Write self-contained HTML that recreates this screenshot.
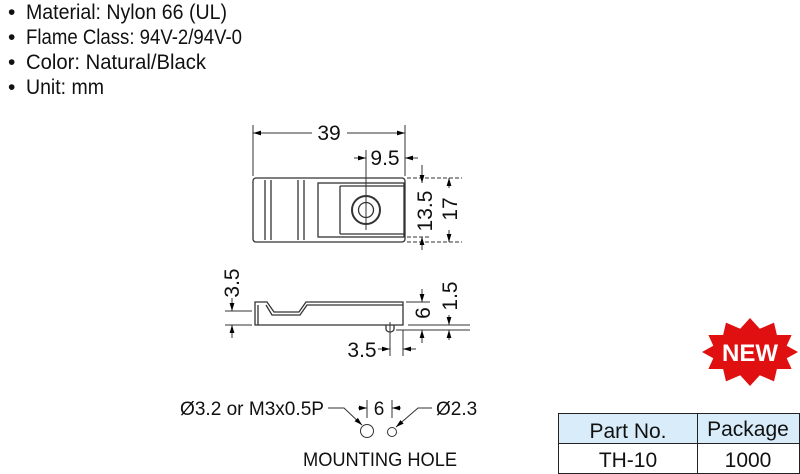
<!DOCTYPE html>
<html><head><meta charset="utf-8"><style>
html,body{margin:0;padding:0;background:#fff;}
svg{display:block;font-family:"Liberation Sans",sans-serif;}
</style></head><body>
<svg width="800" height="474" viewBox="0 0 800 474" xmlns="http://www.w3.org/2000/svg">
<defs>
<marker id="a" viewBox="0 0 10 10" refX="10" refY="5" markerWidth="8" markerHeight="8" orient="auto-start-reverse" markerUnits="userSpaceOnUse"><path d="M0,2 L10,5 L0,8 z" fill="#000"/></marker>
</defs>
<g font-size="21" fill="#111">
<text x="8" y="19">•</text><text x="26" y="19" textLength="201" lengthAdjust="spacingAndGlyphs">Material: Nylon 66 (UL)</text>
<text x="8" y="44">•</text><text x="26" y="44" textLength="216" lengthAdjust="spacingAndGlyphs">Flame Class: 94V-2/94V-0</text>
<text x="8" y="69">•</text><text x="26" y="69" textLength="180" lengthAdjust="spacingAndGlyphs">Color: Natural/Black</text>
<text x="8" y="94">•</text><text x="26" y="94" textLength="78" lengthAdjust="spacingAndGlyphs">Unit: mm</text>
</g>

<g fill="none" stroke="#333" stroke-width="1.3">
<rect x="253" y="178" width="152" height="64" rx="3"/>
<line x1="265" y1="180" x2="265" y2="240"/><line x1="271" y1="180" x2="271" y2="240"/>
<line x1="298" y1="180" x2="298" y2="240"/><line x1="304" y1="180" x2="304" y2="240"/>
<rect x="318" y="183" width="86" height="54"/>
<line x1="340" y1="186" x2="340" y2="234"/><line x1="340" y1="186" x2="404" y2="186"/><line x1="340" y1="234" x2="404" y2="234"/>
<circle cx="366" cy="210" r="14" stroke-width="2"/><circle cx="366" cy="210" r="7.5"/>
</g>
<g stroke="#333" stroke-width="1" fill="none">
<line x1="253" y1="125" x2="253" y2="176"/><line x1="405" y1="125" x2="405" y2="176"/>
<line x1="253" y1="133" x2="312" y2="133" marker-start="url(#a)"/><line x1="347" y1="133" x2="405" y2="133" marker-end="url(#a)"/>
<line x1="366" y1="150" x2="366" y2="230"/>
<line x1="354" y1="158" x2="366" y2="158" marker-end="url(#a)"/><line x1="418" y1="158" x2="405" y2="158" marker-end="url(#a)"/>
<line x1="407" y1="178" x2="462" y2="178" stroke-dasharray="4 2"/><line x1="407" y1="237" x2="430" y2="237" stroke-dasharray="4 2"/><line x1="407" y1="242" x2="462" y2="242" stroke-dasharray="4 2"/>
<line x1="422" y1="165" x2="422" y2="183" marker-end="url(#a)"/><line x1="422" y1="250" x2="422" y2="237" marker-end="url(#a)"/>
<line x1="449" y1="188" x2="449" y2="178" marker-end="url(#a)"/><line x1="449" y1="230" x2="449" y2="242" marker-end="url(#a)"/>
</g>
<g font-size="21" fill="#111">
<text x="329" y="140" text-anchor="middle">39</text>
<text x="385" y="165" text-anchor="middle">9.5</text>
<text transform="translate(432,211) rotate(-90)" text-anchor="middle">13.5</text>
<text transform="translate(457,209) rotate(-90)" text-anchor="middle">17</text>
</g>

<g fill="none" stroke="#333" stroke-width="1.3">
<path d="M255,325 L403,325 L403,302 L306,302 L299,312 L274,312 L267,302 L255,302 Z"/>
<path d="M258,305 L258,325 M266,305 L272,315 L300,315 L307,305 L403,305"/>
<path d="M386,325 L386,329 A4,3 0 0 0 394,329 L394,325"/>
</g>
<g stroke="#333" stroke-width="1" fill="none">
<line x1="225" y1="311" x2="252" y2="311"/><line x1="225" y1="325" x2="252" y2="325"/>
<line x1="232" y1="298" x2="232" y2="311" marker-end="url(#a)"/><line x1="232" y1="338" x2="232" y2="325" marker-end="url(#a)"/>
<line x1="406" y1="302" x2="430" y2="302"/><line x1="396" y1="330" x2="470" y2="330"/><line x1="408" y1="325" x2="470" y2="325"/>
<line x1="422" y1="289" x2="422" y2="302" marker-end="url(#a)"/><line x1="422" y1="343" x2="422" y2="330" marker-end="url(#a)"/>
<line x1="449" y1="315" x2="449" y2="325" marker-end="url(#a)"/><line x1="449" y1="340" x2="449" y2="330" marker-end="url(#a)"/>
<line x1="390" y1="322" x2="390" y2="356"/><line x1="403" y1="330" x2="403" y2="356"/>
<line x1="378" y1="349" x2="390" y2="349" marker-end="url(#a)"/><line x1="416" y1="349" x2="403" y2="349" marker-end="url(#a)"/>
</g>
<g font-size="21" fill="#111">
<text transform="translate(239,283) rotate(-90)" text-anchor="middle">3.5</text>
<text transform="translate(430,313) rotate(-90)" text-anchor="middle">6</text>
<text transform="translate(457,296) rotate(-90)" text-anchor="middle">1.5</text>
<text x="362" y="357" text-anchor="middle">3.5</text>
</g>

<g stroke="#333" stroke-width="1" fill="none">
<circle cx="367" cy="431" r="6.5"/><circle cx="392" cy="432" r="4.5"/>
<path d="M328,408 L344,408 L362,425" marker-end="url(#a)"/>
<path d="M432,408 L418,408 L396,427" marker-end="url(#a)"/>
<line x1="367" y1="400" x2="367" y2="418"/><line x1="392" y1="400" x2="392" y2="418"/>
<line x1="358" y1="408" x2="367" y2="408" marker-end="url(#a)"/><line x1="401" y1="408" x2="392" y2="408" marker-end="url(#a)"/>
</g>
<g font-size="19" fill="#111">
<text x="180" y="415" textLength="144" lengthAdjust="spacingAndGlyphs">Ø3.2  or  M3x0.5P</text>
<text x="379" y="415" text-anchor="middle">6</text>
<text x="436" y="415">Ø2.3</text>
<text x="303" y="466" textLength="154" lengthAdjust="spacingAndGlyphs">MOUNTING  HOLE</text>
</g>

<polygon fill="#e01010" points="798,352 786.7,358.2 791.6,369 776.9,369 774,381.4 759.8,375.2 750,386 740.2,375.2 726,381.4 723.1,369 708.4,369 713.3,358.2 702,352 713.3,345.8 708.4,335 723.1,335 726,322.6 740.2,328.8 750,318 759.8,328.8 774,322.6 776.9,335 791.6,335 786.7,345.8"/>
<text x="750" y="361" font-size="24" font-weight="bold" fill="#fff" text-anchor="middle">NEW</text>

<rect x="558.5" y="413.5" width="241" height="30" fill="#d8edf9" stroke="#222"/>
<rect x="558.5" y="443.5" width="241" height="30" fill="#fff" stroke="#222"/>
<line x1="697.5" y1="413" x2="697.5" y2="474" stroke="#222"/>
<g font-size="21" fill="#111" text-anchor="middle">
<text x="628" y="438">Part No.</text>
<text x="748" y="436">Package</text>
<text x="628" y="467">TH-10</text>
<text x="748" y="467">1000</text>
</g>
</svg>
</body></html>
